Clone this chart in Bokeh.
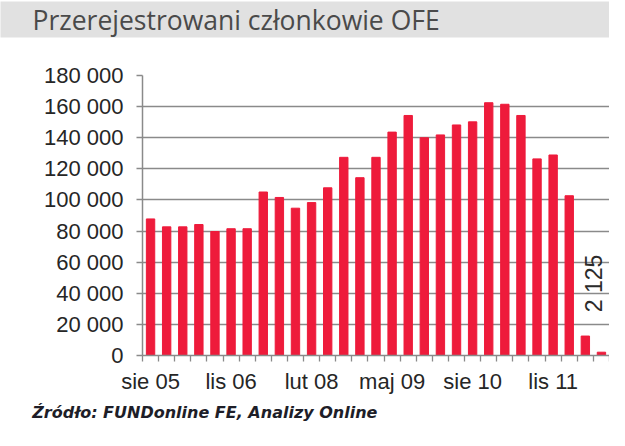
import numpy as np
from bokeh.plotting import figure
from bokeh.models import Range1d, FixedTicker, ColumnDataSource, Title
from bokeh.core.properties import value
from bokeh.embed import file_html
from bokeh.resources import INLINE

# ---------------- data ----------------
title_text = "Przerejestrowani członkowie OFE"
source_text = "Źródło: FUNDonline FE, Analizy Online"

periods = ["sie 05", "lis 05",
           "lut 06", "maj 06", "sie 06", "lis 06",
           "lut 07", "maj 07", "sie 07", "lis 07",
           "lut 08", "maj 08", "sie 08", "lis 08",
           "lut 09", "maj 09", "sie 09", "lis 09",
           "lut 10", "maj 10", "sie 10", "lis 10",
           "lut 11", "maj 11", "sie 11", "lis 11",
           "lut 12", "maj 12", "sie 12"]

members = [87800, 82700, 82700, 84200, 79700, 81500, 81500, 105100,
           101600, 94700, 98300, 107800, 127400, 114300, 127400, 143600,
           154300, 140000, 141800, 148200, 150200, 162500, 161500, 154300,
           126400, 128900, 102700, 12500, 2125]

x_tick_labels = ["sie 05", "lis 06", "lut 08", "maj 09", "sie 10", "lis 11"]

y_ticks = [0, 20000, 40000, 60000, 80000, 100000, 120000, 140000, 160000, 180000]
y_tick_labels = ["0", "20 000", "40 000", "60 000", "80 000", "100 000",
                 "120 000", "140 000", "160 000", "180 000"]

annotated_value = "2 125"

# ---------------- layout constants (pixels) ----------------
W, H = 609, 430
BL, BR, BT, BB = 142, 0, 75, 75

idx = list(range(len(periods)))
src = ColumnDataSource(dict(x=idx, top=members, period=periods))

p = figure(width=W, height=H,
           x_range=Range1d(-0.5, len(periods) - 0.5), y_range=Range1d(0, 180000),
           output_backend="svg", toolbar_location=None,
           min_border_left=BL, min_border_right=BR, min_border_top=BT, min_border_bottom=BB)
p.outline_line_color = None
p.background_fill_color = "white"
p.border_fill_color = "white"

# ---------------- title band: spacer next to the frame, band above it ----------------
spacer = Title(text=" ", align="left", text_font="Open Sans", text_font_size="2px",
               text_color="white", standoff=31)
p.add_layout(spacer, "above")

band_title = Title(text=title_text, align="left", offset=-BL,
                   text_font="Open Sans", text_font_size="26.5px", text_font_style="normal",
                   text_color="#4a4a4a", background_fill_color="#e1e1e1",
                   border_line_color=None,
                   padding=dict(left=32, right=260, top=0, bottom=0),
                   standoff=0, vertical_align="top")
p.add_layout(band_title, "above")

# ---------------- source line ----------------
src_title = Title(text=source_text, align="left", offset=31.7 - BL,
                  text_font="DejaVu Sans", text_font_size="16px",
                  text_font_style="bold italic", text_color="#1e1e28", standoff=8)
p.add_layout(src_title, "below")

# ---------------- bars ----------------
p.vbar(x="x", top="top", width=0.52, source=src, color="#EE1B3B")

p.text(x=[idx[-1]], y=[members[-1]], text=[annotated_value], angle=np.pi / 2,
       text_font=value("Liberation Sans"), text_font_size="23px", text_color="#2b2b2b",
       text_align="left", text_baseline="middle", y_offset=-40, x_offset=-7)

# ---------------- axes ----------------
p.yaxis.ticker = FixedTicker(ticks=y_ticks)
p.yaxis.major_label_overrides = {t: l for t, l in zip(y_ticks, y_tick_labels)}
p.yaxis.major_label_text_font = "Liberation Sans"
p.yaxis.major_label_text_font_size = "22px"
p.yaxis.major_label_text_color = "#262626"
p.yaxis.axis_line_color = "#8a8a8a"
p.yaxis.axis_line_width = 1.5
p.yaxis.major_tick_line_color = "#8a8a8a"
p.yaxis.major_tick_line_width = 1.3
p.yaxis.major_tick_out = 6
p.yaxis.major_tick_in = 0
p.yaxis.minor_tick_line_color = None
p.yaxis.major_label_standoff = 13

label_pos = [periods.index(l) for l in x_tick_labels]
p.xaxis.ticker = FixedTicker(ticks=label_pos,
                             minor_ticks=[i - 0.5 for i in range(len(periods) + 1)])
p.xaxis.major_label_overrides = {pos: l for pos, l in zip(label_pos, x_tick_labels)}
p.xaxis.major_label_text_font = "Liberation Sans"
p.xaxis.major_label_text_font_size = "22px"
p.xaxis.major_label_text_color = "#262626"
p.xaxis.axis_line_color = "#8a8a8a"
p.xaxis.axis_line_width = 1.5
p.xaxis.major_tick_line_color = None
p.xaxis.major_tick_out = 0
p.xaxis.major_tick_in = 0
p.xaxis.minor_tick_line_color = "#8a8a8a"
p.xaxis.minor_tick_line_width = 1.3
p.xaxis.minor_tick_out = 6
p.xaxis.minor_tick_in = 0
p.xaxis.major_label_standoff = 7

p.xgrid.grid_line_color = None
p.ygrid.ticker = FixedTicker(ticks=y_ticks)
p.ygrid.grid_line_color = "#8a8a8a"
p.ygrid.grid_line_width = 1.3

open("out.html", "w").write(file_html(p, INLINE))
